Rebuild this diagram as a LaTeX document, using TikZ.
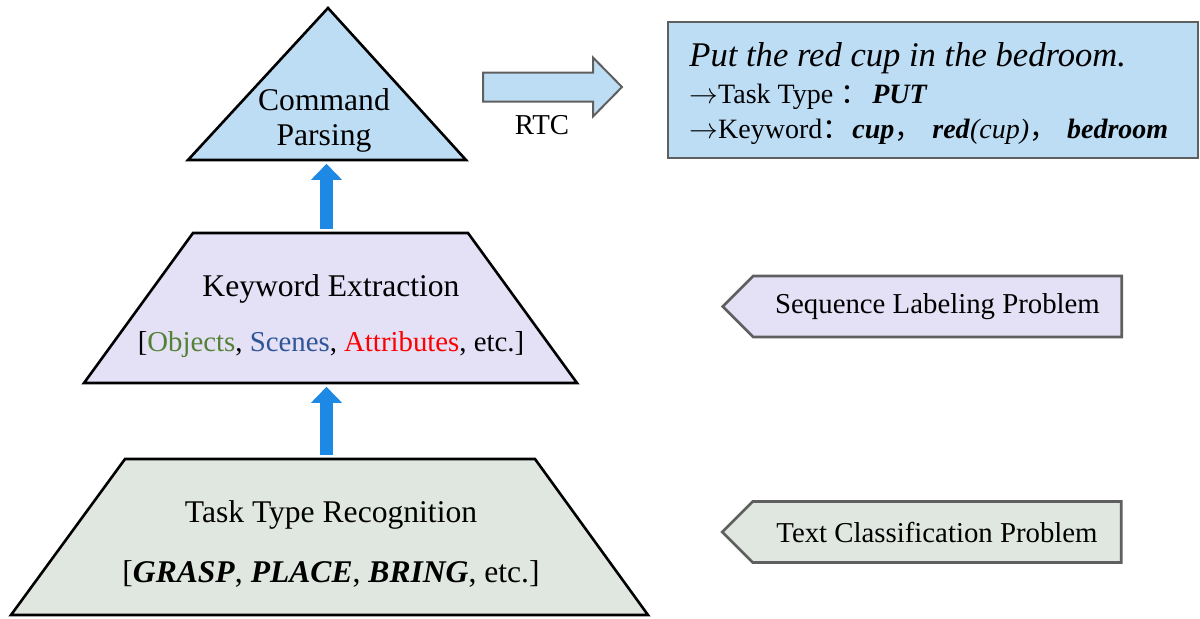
\documentclass[tikz,border=0pt]{standalone}
\usepackage{fontspec}
\setmainfont{Liberation Serif}
\newfontfamily\cjk{Noto Sans CJK SC}
\usetikzlibrary{shapes.symbols, arrows.meta, positioning}
\definecolor{cmdblue}{RGB}{189,221,245}
\definecolor{kwlav}{RGB}{228,224,246}
\definecolor{ttgreen}{RGB}{224,230,224}
\definecolor{arrblue}{RGB}{30,136,229}
\definecolor{edgegray}{RGB}{95,95,95}
\definecolor{objgreen}{RGB}{84,130,53}
\definecolor{scnblue}{RGB}{47,85,151}
\definecolor{attred}{RGB}{255,0,0}
\newcommand{\fw}[1]{{\cjk #1}}

\begin{document}
\begin{tikzpicture}[x=0.5pt, y=-0.5pt,
  txt/.style={font=\fontsize{15.8}{17.5}\selectfont, align=center, inner sep=0pt},
  level/.style={draw=black, line width=1.3pt},
  side/.style={signal, signal to=west, signal from=nowhere, draw=edgegray, line width=1.3pt, minimum width=199.5pt, minimum height=30.5pt, inner sep=0pt, font=\fontsize{14.4}{17}\selectfont},
  uparr/.style={-{Triangle[width=15pt,length=8pt]}, line width=6.5pt, arrblue, shorten <=2.2pt, shorten >=1.9pt}]
  \useasboundingbox (0,0) rectangle (1200,618);
  % pyramid
  \coordinate (cpbase) at (326.5,160);
  \coordinate (kwtop) at (326.5,233);
  \coordinate (kwbot) at (326.5,383);
  \coordinate (tttop) at (326.5,459);
  \draw[level, fill=cmdblue] (328,8) -- (466,160) -- (188,160) -- cycle;
  \draw[level, fill=kwlav] (193,233) -- (468,233) -- (577,383) -- (84,383) -- cycle;
  \draw[level, fill=ttgreen] (125,459) -- (535,459) -- (648,615) -- (11,615) -- cycle;
  \node[txt] (cp) at (324,120) {Command\\Parsing};
  \node[txt, font=\fontsize{15.8}{27.5}\selectfont] (kw) at (331,316) {Keyword Extraction\\{\fontsize{14.4}{17}\selectfont[\textcolor{objgreen}{Objects}, \textcolor{scnblue}{Scenes}, \textcolor{attred}{Attributes}, etc.]}};
  \node[txt, font=\fontsize{15.8}{30}\selectfont] (tt) at (331,544) {Task Type Recognition\\{}[\textbf{\textit{GRASP}}, \textbf{\textit{PLACE}}, \textbf{\textit{BRING}}, etc.]};
  \draw[uparr] (kwtop) -- (cpbase);
  \draw[uparr] (tttop) -- (kwbot);
  % parsing result
  \coordinate (rtc) at (483,87);
  \draw[draw=edgegray, fill=cmdblue, line width=1pt] (rtc) ++(0,-14.5) -- ++(110,0) -- ++(0,-15) -- ++(29,29.5) -- ++(-29,29.5) -- ++(0,-15) -- ++(-110,0) -- cycle;
  \node[font=\fontsize{14.4}{17}\selectfont, inner sep=0pt] (rtclbl) at (542,125) {RTC};
  \node[draw=edgegray, fill=cmdblue, line width=1.3pt, minimum width=265pt, minimum height=68pt] (res) at (933,90) {};
  \node[anchor=base west, inner sep=0pt, font=\fontsize{17.3}{20}\selectfont\itshape] (res1) at (689,66) {Put the red cup in the bedroom.};
  \node[anchor=base west, inner sep=0pt, font=\fontsize{14}{17}\selectfont] (res2) at (689,103) {$\rightarrow$Task Type\ \fw{：}\hspace{2pt}\textbf{\textit{PUT}}};
  \node[anchor=base west, inner sep=0pt, font=\fontsize{14}{17}\selectfont] (res3) at (689,138) {$\rightarrow$Keyword\fw{：}\hspace{1pt}\textbf{\textit{cup}}\fw{，}\hspace{5pt}\textbf{\textit{red}}\textit{(cup)}\fw{，}\hspace{5pt}\textbf{\textit{bedroom}}};
  % problem types
  \node[side, fill=kwlav] (seq) at (937.5,306.5) {Sequence Labeling Problem};
  \node[side, fill=ttgreen] (cls) at (937,532) {Text Classification Problem};
\end{tikzpicture}
\end{document}
